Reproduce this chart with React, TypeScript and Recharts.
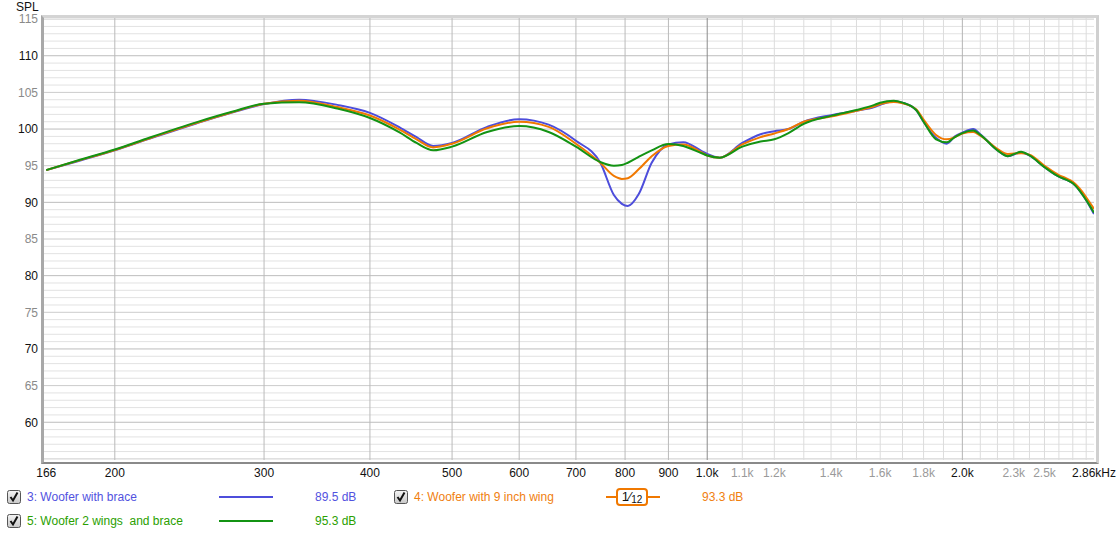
import { CartesianGrid, Line, LineChart, XAxis, YAxis } from 'recharts'

// frequency points (Hz)
const freqs = [166, 180, 200, 220, 250, 275, 300, 330, 366, 400, 434, 454, 475, 500, 550, 600, 650, 700, 748, 776, 793, 806, 830, 860, 900, 937, 985, 1000, 1035, 1100, 1156, 1200, 1247, 1300, 1400, 1500, 1575, 1600, 1660, 1700, 1764, 1800, 1862, 1917, 1960, 2000, 2060, 2100, 2200, 2263, 2346, 2400, 2500, 2600, 2650, 2700, 2750, 2800, 2860]

const wooferBrace = [94.4, 95.55, 97.1, 98.7, 100.8, 102.25, 103.4, 104.0, 103.3, 102.2, 100.2, 98.9, 97.7, 98.1, 100.3, 101.35, 100.6, 98.4, 95.4, 91.0, 89.8, 89.5, 91.1, 95.4, 97.9, 98.2, 97.0, 96.6, 96.1, 98.1, 99.3, 99.7, 100.0, 101.0, 101.9, 102.5, 103.0, 103.3, 103.8, 103.6, 102.6, 101.0, 98.8, 98.0, 99.0, 99.5, 100.0, 99.3, 97.1, 96.3, 96.8, 96.4, 94.8, 93.5, 93.1, 92.6, 91.6, 90.3, 88.4]
const woofer9Wing = [94.4, 95.6, 97.15, 98.75, 100.85, 102.3, 103.45, 103.85, 103.0, 101.85, 99.9, 98.6, 97.5, 98.0, 100.1, 101.0, 100.3, 98.0, 95.4, 93.6, 93.2, 93.3, 94.5, 96.3, 97.7, 97.9, 96.8, 96.4, 96.1, 97.9, 98.9, 99.4, 100.0, 101.0, 101.7, 102.5, 103.1, 103.4, 103.7, 103.5, 102.7, 101.3, 99.2, 98.6, 98.9, 99.4, 99.6, 99.1, 97.3, 96.6, 96.7, 96.5, 95.0, 93.7, 93.3, 92.8, 91.9, 90.7, 89.1]
const woofer2Wings = [94.4, 95.65, 97.2, 98.85, 100.95, 102.35, 103.45, 103.65, 102.8, 101.5, 99.5, 98.1, 97.1, 97.6, 99.6, 100.4, 99.6, 97.6, 95.5, 95.0, 95.1, 95.4, 96.2, 97.1, 97.95, 97.7, 96.7, 96.4, 96.1, 97.6, 98.3, 98.6, 99.45, 100.7, 101.8, 102.6, 103.3, 103.6, 103.85, 103.6, 102.6, 101.0, 98.6, 98.2, 98.9, 99.45, 99.8, 99.2, 97.1, 96.3, 96.9, 96.4, 94.8, 93.5, 93.1, 92.6, 91.6, 90.3, 88.6]

const xTicks = [166, 200, 300, 400, 500, 600, 700, 800, 900, 1000, 1100, 1200, 1400, 1600, 1800, 2000, 2300, 2500, 2860]
const xTickLabels = ['166', '200', '300', '400', '500', '600', '700', '800', '900', '1.0k', '1.1k', '1.2k', '1.4k', '1.6k', '1.8k', '2.0k', '2.3k', '2.5k', '2.86kHz']
const xDimTicks = [1100, 1200, 1400, 1600, 1800, 2300, 2500]
const yTicks = [60, 65, 70, 75, 80, 85, 90, 95, 100, 105, 110, 115]

const legendItems = [
    { label: '3: Woofer with brace', value: '89.5 dB', color: '#4d4ddb', text: '#5252e0' },
    { label: '4: Woofer with 9 inch wing', value: '93.3 dB', color: '#f07800', text: '#f08010' },
    { label: '5: Woofer 2 wings\u00a0 and brace', value: '95.3 dB', color: '#139313', text: '#2aa000' },
]

const data = freqs.map((f, i) => ({ f, brace: wooferBrace[i], wing: woofer9Wing[i], wings: woofer2Wings[i] }))

// grid positions
const yMinor: number[] = []
const yFive: number[] = []
const yTen: number[] = []
for (let v = 55; v <= 115; v++) {
    if (v % 10 === 0) yTen.push(v)
    else if (v % 5 === 0) yFive.push(v)
    else yMinor.push(v)
}
const xMajor = [200, 300, 400, 500, 600, 700, 800, 900]
const xFine: number[] = []
for (let v = 1100; v <= 2800; v += 100) if (v !== 2000) xFine.push(v)

const font = '"Liberation Sans", Arial, sans-serif'

function XTick(props: any) {
    const { x, y, payload } = props
    const idx = xTicks.indexOf(payload.value)
    const dim = xDimTicks.includes(payload.value)
    return (
        <text x={x} y={y} dy="0.71em" textAnchor="middle" fontSize={12} fontFamily={font} fill={dim ? '#9a9a9a' : '#111'}>
            {xTickLabels[idx]}
        </text>
    )
}

function YTick(props: any) {
    const { x, y, payload } = props
    const dark = payload.value % 10 === 0
    return (
        <text x={x} y={y} dy="0.36em" textAnchor="end" fontSize={12} fontFamily={font} fill={dark ? '#111' : '#8a8a8a'}>
            {payload.value}
        </text>
    )
}

function CheckBox({ left, top }: { left: number; top: number }) {
    return (
        <svg style={{ position: 'absolute', left, top }} width={14} height={14}>
            <defs>
                <linearGradient id="cbg" x1="0" y1="0" x2="0" y2="1">
                    <stop offset="0" stopColor="#f4f4f4" />
                    <stop offset="1" stopColor="#c8c8c8" />
                </linearGradient>
            </defs>
            <rect x={0.5} y={0.5} width={13} height={13} rx={2} fill="url(#cbg)" stroke="#555" />
            <path d="M3.5 7 L6 10.5 L10.5 2.5" fill="none" stroke="#111" strokeWidth={2} />
        </svg>
    )
}

function LegendRow({ item, left, top, smooth }: { item: (typeof legendItems)[number]; left: number; top: number; smooth?: boolean }) {
    return (
        <>
            <CheckBox left={left} top={top - 7} />
            <div style={{ position: 'absolute', left: left + 20, top: top - 8, fontSize: 12, lineHeight: '16px', color: item.text, whiteSpace: 'pre' }}>{item.label}</div>
            <div style={{ position: 'absolute', left: left + 212, top: top - 1, width: 54, height: 2, background: item.color }} />
            {smooth && (
                <div
                    style={{
                        position: 'absolute',
                        left: left + 222,
                        top: top - 9,
                        width: 28,
                        height: 14,
                        border: `2px solid ${item.color}`,
                        borderRadius: 4,
                        background: '#fff',
                        fontSize: 12,
                        lineHeight: '14px',
                        color: '#111',
                        textAlign: 'center',
                    }}
                >
                    <span style={{ fontSize: 13 }}>1</span>
                    <span style={{ fontSize: 13 }}>⁄</span>
                    <span style={{ fontSize: 10, position: 'relative', top: 2 }}>12</span>
                </div>
            )}
            <div style={{ position: 'absolute', left: left + 308, top: top - 8, fontSize: 12, lineHeight: '16px', color: item.text }}>{item.value}</div>
        </>
    )
}

export default function App() {
    return (
        <div style={{ position: 'fixed', left: 0, top: 0, width: 1116, height: 536, background: '#fff', fontFamily: font, overflow: 'hidden' }}>
            <div style={{ position: 'absolute', left: 16, top: 1, fontSize: 12, lineHeight: '12px', color: '#111' }}>SPL</div>
            <LineChart width={1116} height={536} data={data} margin={{ top: 18, right: 22, left: 0, bottom: 56 }}>
                <CartesianGrid horizontalValues={yMinor} vertical={false} stroke="#e2e2e2" />
                <CartesianGrid horizontalValues={yFive} vertical={false} stroke="#cccccc" />
                <CartesianGrid horizontalValues={yTen} vertical={false} stroke="#bdbdbd" />
                <CartesianGrid verticalValues={xFine} horizontal={false} stroke="#dcdcdc" />
                <CartesianGrid verticalValues={xMajor} horizontal={false} stroke="#bababa" />
                <CartesianGrid verticalValues={[2000]} horizontal={false} stroke="#b4b4b4" />
                <CartesianGrid verticalValues={[1000]} horizontal={false} stroke="#8c8c8c" />
                <XAxis
                    dataKey="f"
                    type="number"
                    scale="log"
                    domain={[165, 2860]}
                    allowDataOverflow
                    ticks={xTicks}
                    interval={0}
                    tick={<XTick />}
                    tickLine={false}
                    axisLine={false}
                    height={20}
                />
                <YAxis
                    type="number"
                    domain={[54.85, 115.15]}
                    allowDataOverflow
                    ticks={yTicks}
                    interval={0}
                    tick={<YTick />}
                    tickLine={false}
                    axisLine={false}
                    tickSize={6}
                    tickMargin={0}
                    width={44}
                />
                <Line type="monotone" dataKey="brace" stroke={legendItems[0].color} strokeWidth={2} dot={false} isAnimationActive={false} />
                <Line type="monotone" dataKey="wing" stroke={legendItems[1].color} strokeWidth={2} dot={false} isAnimationActive={false} />
                <Line type="monotone" dataKey="wings" stroke={legendItems[2].color} strokeWidth={2} dot={false} isAnimationActive={false} />
            </LineChart>
            {/* plot frame */}
            <div style={{ position: 'absolute', left: 41, top: 15, width: 1052, height: 444, borderStyle: 'solid', borderWidth: '3px 3px 2px 3px', borderColor: '#d4d4d4 #d0d0d0 #8a8a8a #a8a8a8', pointerEvents: 'none' }} />
            <LegendRow item={legendItems[0]} left={7} top={497} />
            <LegendRow item={legendItems[2]} left={7} top={521} />
            <LegendRow item={legendItems[1]} left={394} top={497} smooth />
        </div>
    )
}
